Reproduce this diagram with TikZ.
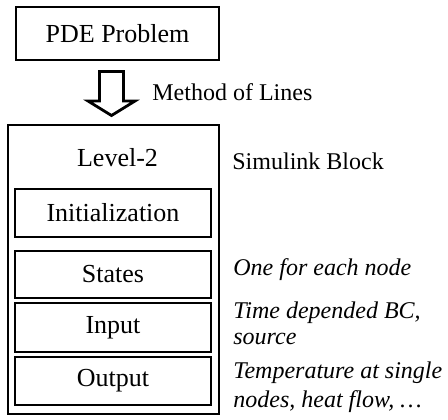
\documentclass[tikz,border=0pt]{standalone}
\usepackage{fontspec}
\setmainfont{Liberation Serif}
\usepackage{tikz}

\begin{document}
\begin{tikzpicture}[x=0.5pt, y=-0.5pt,
    box/.style={draw, line width=1pt, inner sep=0pt, font=\fontsize{13}{15}\selectfont},
    part/.style={box, minimum width=98pt},
    note/.style={inner sep=0pt, anchor=base west, align=left, font=\fontsize{12}{13}\selectfont\itshape},
    plain/.style={inner sep=0pt, anchor=base west, font=\fontsize{12}{13}\selectfont}]
          \useasboundingbox (0,0) rectangle (448,419);

          % Nodes
          \node[box, minimum width=101.5pt, minimum height=26.5pt] (pde) at (117.5,33.5) {PDE Problem};
          \node[box, minimum width=105.5pt, minimum height=144.5pt] (sfun) at (113.5,269.5) {};
          \node[inner sep=0pt, anchor=base, font=\fontsize{13}{15}\selectfont] (lvl) at (117.5,166.5) {Level-2};
          \node[part, minimum height=24pt] (init) at (113,213) {Initialization};
          \node[part, minimum height=23.5pt] (states) at (113,274.5) {States};
          \node[part, minimum height=24.5pt] (input) at (113,327.5) {Input};
          \node[part, minimum height=24pt] (output) at (113,381) {Output};

          % Labels (base = last line)
          \node[plain] (mol) at (152,100) {Method of Lines};
          \node[plain] (simu) at (232,169) {Simulink Block};
          \node[note] (nstates) at (233,275) {One for each node};
          \node[note] (ninput) at (233,344) {Time depended BC,\\source};
          \node[note] (noutput) at (233,407) {Temperature at single\\[1.5pt]nodes, heat flow, \dots};

          % Arrow
          \draw[line width=1.4pt, fill=white, line join=miter]
            (99.5,71.5) -- (123.5,71.5) -- (123.5,101) -- (135,101)
            -- (111.5,115.5) -- (88,101) -- (99.5,101) -- cycle;
      \end{tikzpicture}
\end{document}
